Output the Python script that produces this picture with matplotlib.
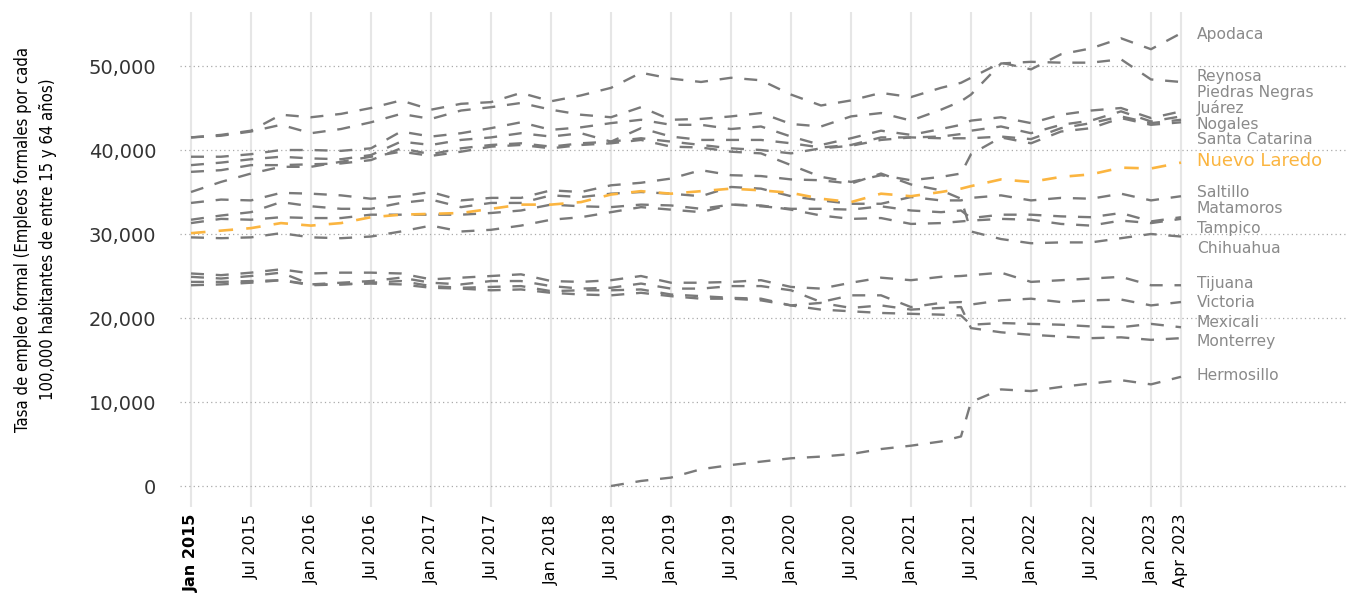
import numpy as np
import matplotlib
matplotlib.use("Agg")
import matplotlib.pyplot as plt
from matplotlib import font_manager

nan = np.nan

# months counted from Jan 2015: quarterly, plus Jun 2021
months = list(range(0, 76, 3)) + [77] + list(range(78, 100, 3))

tick_months = list(range(0, 97, 6)) + [99]
tick_labels = []
for m in tick_months:
    y = 2015 + m // 12
    mon = {0: 'Jan', 3: 'Apr', 6: 'Jul'}[m % 12]
    tick_labels.append(f'{mon} {y}')

# values in thousands (empleos formales por cada 100,000 habitantes)
apodaca = [41.5, 41.8, 42.3, 44.2, 43.9, 44.3, 45.0, 45.9, 44.8, 45.5, 45.7, 46.8, 45.8,
           46.5, 47.4, 49.2, 48.5, 48.1, 48.6, 48.3, 46.6, 45.3, 45.9, 46.8, 46.3, 47.4,
           48.0, 48.6, 50.4, 49.6, 51.4, 52.1, 53.3, 52.0, 53.9]
reynosa = [41.5, 41.7, 42.2, 43.0, 42.0, 42.5, 43.3, 44.3, 43.7, 44.7, 45.1, 45.6, 44.8,
           44.2, 43.9, 45.1, 43.6, 43.7, 44.0, 44.4, 43.1, 42.8, 44.0, 44.4, 43.5, 44.8,
           45.8, 46.6, 50.3, 50.5, 50.4, 50.4, 50.8, 48.4, 48.1]
piedras_negras = [39.2, 39.2, 39.5, 40.0, 40.0, 39.9, 40.2, 42.2, 41.6, 42.0, 42.6, 43.3, 42.4,
                  42.7, 43.2, 43.6, 43.0, 43.0, 42.5, 42.8, 41.6, 40.6, 41.4, 42.3, 41.8, 42.5,
                  43.0, 43.5, 43.9, 43.2, 44.2, 44.7, 45.0, 43.8, 44.6]
juarez = [38.2, 38.5, 38.9, 39.2, 39.0, 38.9, 39.4, 41.0, 40.6, 41.2, 41.5, 42.0, 41.6,
          42.0, 41.0, 42.6, 41.6, 41.2, 41.2, 41.2, 40.8, 40.3, 40.6, 41.5, 41.5, 41.6,
          41.9, 42.3, 42.8, 42.0, 43.0, 43.5, 44.6, 43.4, 44.0]
nogales = [37.4, 37.6, 38.2, 38.2, 38.3, 38.4, 38.8, 40.2, 39.5, 40.2, 40.6, 40.8, 40.4,
           40.8, 41.0, 41.4, 41.0, 40.6, 40.2, 40.0, 39.6, 40.2, 40.5, 41.2, 41.5, 41.4,
           41.4, 41.4, 41.6, 41.3, 42.6, 43.2, 44.0, 43.2, 43.6]
santa_catarina = [35.0, 36.2, 37.2, 38.0, 38.0, 38.6, 39.2, 39.8, 39.3, 39.8, 40.4, 40.6, 40.2,
                  40.6, 40.8, 41.2, 40.4, 40.3, 39.8, 39.6, 38.2, 36.8, 36.2, 37.0, 36.4, 36.8,
                  37.2, 39.5, 41.5, 40.8, 42.2, 42.6, 43.8, 43.0, 43.3]
nuevo_laredo = [30.1, 30.4, 30.7, 31.3, 31.0, 31.3, 32.0, 32.3, 32.4, 32.5, 33.0, 33.5, 33.5,
                33.8, 34.7, 35.1, 34.8, 35.1, 35.4, 35.2, 34.9, 34.2, 33.8, 34.8, 34.5, 35.0,
                35.4, 35.7, 36.5, 36.2, 36.8, 37.1, 37.9, 37.8, 38.5]
saltillo = [31.7, 32.2, 32.6, 33.8, 33.3, 33.0, 33.0, 33.7, 34.1, 33.2, 33.7, 33.7, 34.6,
            34.4, 34.8, 35.0, 34.8, 34.5, 35.6, 35.4, 34.5, 34.0, 33.6, 33.6, 34.4, 34.0,
            34.0, 34.3, 34.6, 34.0, 34.3, 34.2, 34.8, 34.0, 34.5]
matamoros = [31.3, 31.8, 31.7, 32.0, 31.9, 31.9, 32.3, 32.3, 32.3, 32.3, 32.5, 32.8, 33.5,
             33.3, 33.2, 33.5, 33.4, 33.0, 33.5, 33.3, 33.0, 33.0, 32.9, 33.3, 32.8, 32.6,
             32.8, 31.9, 32.3, 32.3, 32.1, 32.0, 32.5, 31.5, 32.0]
tampico = [29.6, 29.5, 29.6, 30.1, 29.6, 29.5, 29.7, 30.3, 31.0, 30.3, 30.5, 31.0, 31.7,
           32.0, 32.6, 33.2, 32.9, 32.6, 33.5, 33.4, 32.9, 32.2, 31.8, 31.9, 31.2, 31.3,
           31.5, 31.6, 31.8, 31.7, 31.2, 31.0, 31.6, 31.3, 31.8]
chihuahua = [33.7, 34.1, 34.0, 34.9, 34.8, 34.6, 34.2, 34.5, 35.0, 34.0, 34.3, 34.3, 35.2,
             35.0, 35.8, 36.1, 36.6, 37.6, 37.0, 36.9, 36.5, 36.4, 36.0, 37.2, 35.9, 35.2,
             34.2, 30.3, 29.4, 28.9, 29.0, 29.0, 29.5, 30.0, 29.7]
tijuana = [25.3, 25.1, 25.4, 25.8, 25.3, 25.4, 25.4, 25.3, 24.6, 24.8, 25.0, 25.2, 24.4,
           24.3, 24.5, 25.0, 24.2, 24.2, 24.3, 24.5, 23.7, 23.5, 24.2, 24.8, 24.5, 24.9,
           25.0, 25.1, 25.4, 24.3, 24.5, 24.7, 24.9, 23.9, 23.9]
victoria = [24.9, 24.7, 25.0, 25.4, 24.0, 24.2, 24.4, 24.8, 24.2, 24.0, 24.4, 24.4, 23.8,
            23.5, 23.6, 24.1, 23.5, 23.5, 23.8, 23.8, 23.3, 21.9, 22.7, 22.7, 21.3, 21.8,
            21.9, 21.6, 22.1, 22.3, 21.9, 22.1, 22.2, 21.5, 21.9]
mexicali = [24.3, 24.3, 24.4, 24.5, 24.0, 24.0, 24.2, 24.4, 23.8, 23.6, 23.7, 23.8, 23.2,
            23.3, 23.3, 23.4, 22.8, 22.6, 22.4, 22.3, 21.5, 21.0, 20.8, 20.6, 20.5, 20.4,
            20.3, 19.2, 19.4, 19.3, 19.2, 19.0, 18.9, 19.3, 18.9]
monterrey = [23.9, 24.0, 24.2, 24.5, 23.9, 24.0, 24.1, 24.0, 23.6, 23.5, 23.3, 23.4, 23.0,
             22.8, 22.7, 23.0, 22.6, 22.3, 22.3, 22.1, 21.5, 21.8, 21.2, 21.5, 21.0, 21.2,
             21.3, 18.8, 18.3, 18.0, 17.8, 17.6, 17.7, 17.4, 17.6]
hermosillo = [nan] * 14 + [0.0, 0.6, 1.0, 2.0, 2.5, 2.9, 3.3, 3.5, 3.8, 4.4, 4.8, 5.3,
                           5.9, 10.0, 11.5, 11.3, 11.8, 12.2, 12.6, 12.1, 13.0]

names = ['Apodaca', 'Reynosa', 'Piedras Negras', 'Juárez', 'Nogales', 'Santa Catarina',
         'Nuevo Laredo', 'Saltillo', 'Matamoros', 'Tampico', 'Chihuahua', 'Tijuana',
         'Victoria', 'Mexicali', 'Monterrey', 'Hermosillo']
series = [apodaca, reynosa, piedras_negras, juarez, nogales, santa_catarina,
          nuevo_laredo, saltillo, matamoros, tampico, chihuahua, tijuana,
          victoria, mexicali, monterrey, hermosillo]

# where the end labels sit (thousands)
label_y = [53.7, 48.8, 46.8, 45.0, 43.0, 41.2, 38.7, 35.0, 33.0, 30.7, 28.3,
           24.05, 21.8, 19.5, 17.15, 13.1]

GRAY = '#7a7a7a'
ORANGE = '#fbb540'

# condensed face for the axis title, if one is around
narrow = 'DejaVu Sans'
for f in font_manager.fontManager.ttflist:
    if 'Narrow' in f.name or 'Condensed' in f.fname:
        narrow = f.name
        break

fig = plt.figure(figsize=(13.48, 5.95), dpi=100)
ax = fig.add_axes([180 / 1348, 1 - 507 / 595, 1 - 180 / 1348, 495 / 595])

x = np.array(months)
for name, vals in zip(names, series):
    if name == 'Nuevo Laredo':
        continue
    ax.plot(x, np.array(vals) * 1000, color=GRAY, lw=1.7, dashes=(5.5, 5.0),
            dash_capstyle='butt', zorder=3)
ax.plot(x, np.array(nuevo_laredo) * 1000, color=ORANGE, lw=1.9, dashes=(5.5, 5.0),
        dash_capstyle='butt', zorder=4)

for name, ly in zip(names, label_y):
    if name == 'Nuevo Laredo':
        ax.text(100.6, ly * 1000, name, color=ORANGE, fontsize=13, va='center',
                ha='left', fontweight='medium')
    else:
        ax.text(100.6, ly * 1000, name, color='#8a8a8a', fontsize=11.2, va='center',
                ha='left')

ax.set_xlim(-1.1, 115.7)
ax.set_ylim(-2500, 56430)

ax.set_yticks(range(0, 50001, 10000))
ax.set_yticklabels([f'{v:,}' for v in range(0, 50001, 10000)], fontsize=14, color='#333333')
ax.set_xticks(tick_months)
ax.set_xticklabels(tick_labels, rotation=90, fontsize=11.5, color='black', va='top')
ax.get_xticklabels()[0].set_fontweight('bold')
ax.tick_params(axis='y', length=0, pad=17)
ax.tick_params(axis='x', length=0, pad=5)

ax.yaxis.grid(True, color='#aaaaaa', lw=0.9, linestyle=(0, (1, 2.5)))
ax.xaxis.grid(True, color='#e6e6e6', lw=1.5)
ax.set_axisbelow(True)
for s in ax.spines.values():
    s.set_visible(False)

ax.set_ylabel('Tasa de empleo formal (Empleos formales por cada\n'
              '100,000 habitantes de entre 15 y 64 años)',
              fontsize=12, family=narrow, fontstretch='condensed',
              linespacing=1.5, color='black')
ax.yaxis.set_label_coords(-0.105, 0.541)

fig.savefig('out.png', dpi=100)
